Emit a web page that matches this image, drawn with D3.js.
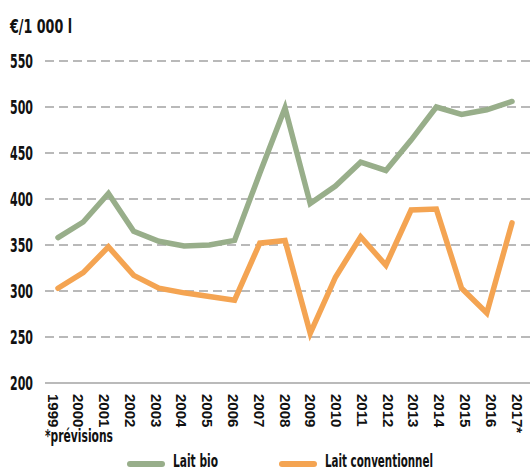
<!DOCTYPE html>
<meta charset='utf-8'>
<html>
<head>
    <title>Prix du lait</title>
    <script src='https://d3js.org/d3.v7.min.js'></script>
    <style>
        html, body { margin: 0; padding: 0; background: #fff; }
        svg { display: block; }
        .cond {
            font-family: 'DejaVu Sans Condensed', 'Liberation Sans', sans-serif;
            font-weight: bold;
            fill: #111;
        }
    </style>
</head>
<body>
<script>
    const width = 530;
    const height = 472;

    // data
    const years = ['1999', '2000', '2001', '2002', '2003', '2004', '2005', '2006', '2007',
        '2008', '2009', '2010', '2011', '2012', '2013', '2014', '2015', '2016', '2017'];
    const yearLabels = ['1999', '2000', '2001', '2002', '2003', '2004', '2005', '2006', '2007',
        '2008', '2009', '2010', '2011', '2012', '2013', '2014', '2015', '2016', '2017*'];
    const laitBio = [358, 375, 406, 365, 354, 349, 350, 355, 428,
        499, 395, 414, 440, 431, 464, 500, 492, 497, 506];
    const laitConventionnel = [303, 320, 348, 317, 303, 298, 294, 290, 352,
        355, 254, 315, 359, 328, 388, 389, 303, 276, 374];
    const yTicks = [200, 250, 300, 350, 400, 450, 500, 550];

    const svg = d3.select('body')
        .append('svg')
        .attr('width', width)
        .attr('height', height);

    // data points and rotated year labels are not spaced quite the same
    const x = d3.scalePoint().domain(years).range([58, 512]);
    const xLabel = d3.scalePoint().domain(years).range([53, 517]);
    const y = d3.scaleLinear().domain([200, 550]).range([383, 61]);

    // unit label
    svg.append('text')
        .attr('class', 'cond')
        .attr('x', 10)
        .attr('y', 33)
        .attr('textLength', 62)
        .attr('lengthAdjust', 'spacingAndGlyphs')
        .style('font-size', '19px')
        .text('€/1 000 l');

    // grid lines
    svg.append('g')
        .selectAll('line')
        .data(yTicks)
        .enter()
        .append('line')
        .attr('x1', 45)
        .attr('x2', width)
        .attr('y1', d => y(d))
        .attr('y2', d => y(d))
        .style('stroke', '#a3a3a3')
        .style('stroke-width', 1.5)
        .style('stroke-dasharray', d => d === 200 ? null : '9,5');

    // y labels
    svg.append('g')
        .selectAll('text')
        .data(yTicks)
        .enter()
        .append('text')
        .attr('class', 'cond')
        .attr('x', 10)
        .attr('y', d => y(d) + 6.5)
        .attr('textLength', 23)
        .attr('lengthAdjust', 'spacingAndGlyphs')
        .style('font-size', '20px')
        .text(d => d);

    // x labels, rotated
    svg.append('g')
        .selectAll('text')
        .data(years)
        .enter()
        .append('text')
        .attr('transform', d => 'translate(' + (xLabel(d) - 5.5) + ',394) rotate(90)')
        .style('font-family', "'Liberation Sans', sans-serif")
        .style('font-size', '15px')
        .style('font-weight', 'bold')
        .style('fill', '#111')
        .text((d, i) => yearLabels[i]);

    // lines
    const line = d3.line()
        .x((d, i) => x(years[i]))
        .y(d => y(d));

    svg.append('path')
        .datum(laitBio)
        .attr('d', line)
        .style('fill', 'none')
        .style('stroke', '#98ae8a')
        .style('stroke-width', 5.5)
        .style('stroke-linejoin', 'miter')
        .style('stroke-linecap', 'round');

    svg.append('path')
        .datum(laitConventionnel)
        .attr('d', line)
        .style('fill', 'none')
        .style('stroke', '#f4a452')
        .style('stroke-width', 5.5)
        .style('stroke-linejoin', 'miter')
        .style('stroke-linecap', 'round');

    // footnote
    svg.append('text')
        .attr('class', 'cond')
        .attr('x', 45)
        .attr('y', 442)
        .attr('textLength', 68)
        .attr('lengthAdjust', 'spacingAndGlyphs')
        .style('font-size', '17px')
        .text('*prévisions');

    // legend
    const legendItems = [
        { name: 'Lait bio', colour: '#98ae8a', x: 127, w: 45 },
        { name: 'Lait conventionnel', colour: '#f4a452', x: 279, w: 108 }
    ];

    const legend = svg.selectAll('g.legendEntry')
        .data(legendItems)
        .enter()
        .append('g').attr('class', 'legendEntry');

    legend.append('line')
        .attr('x1', d => d.x + 3)
        .attr('x2', d => d.x + 35)
        .attr('y1', 464)
        .attr('y2', 464)
        .style('stroke', d => d.colour)
        .style('stroke-width', 6)
        .style('stroke-linecap', 'round');

    legend.append('text')
        .attr('class', 'cond')
        .attr('x', d => d.x + 46)
        .attr('y', 467)
        .attr('textLength', d => d.w)
        .attr('lengthAdjust', 'spacingAndGlyphs')
        .style('font-size', '18px')
        .text(d => d.name);
</script>
</body>
</html>
